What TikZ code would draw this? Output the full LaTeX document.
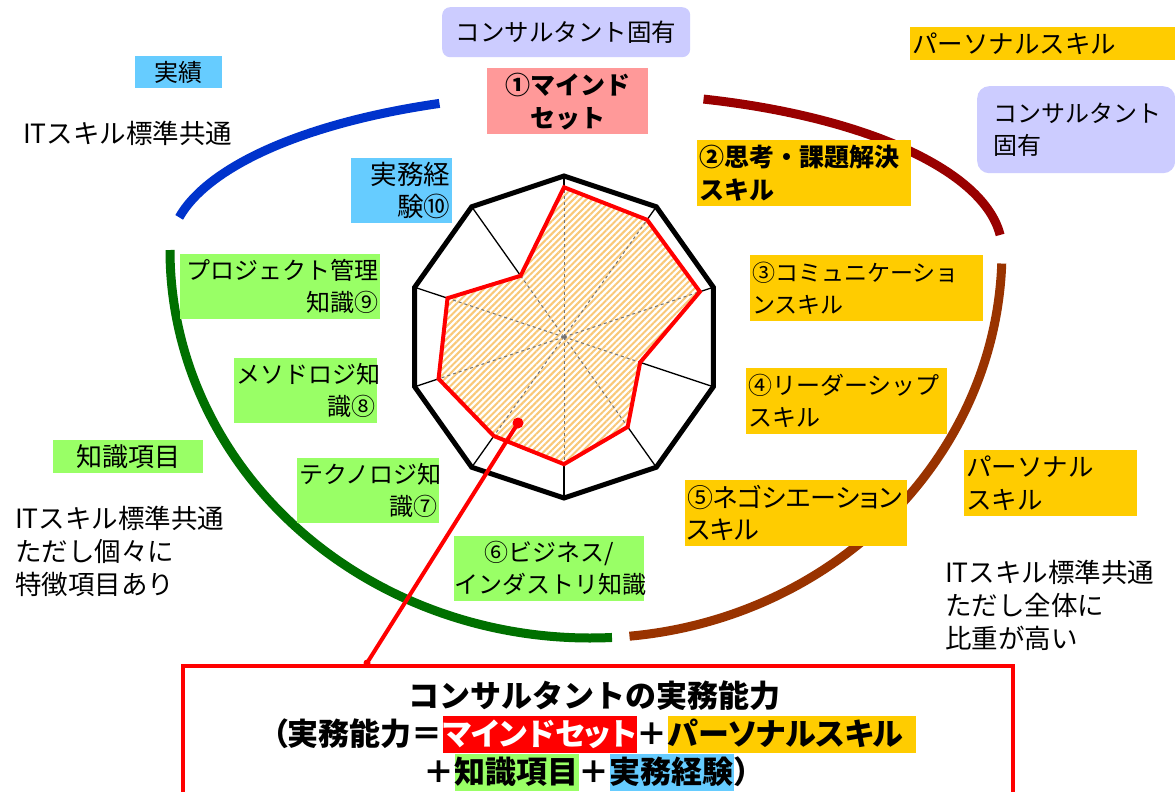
\documentclass[tikz,border=0pt]{standalone}
\usepackage{fontspec}
\setmainfont{Noto Sans CJK JP}
\newfontfamily\jpp{Noto Sans CJK JP}[RawFeature=+palt]
\usetikzlibrary{patterns.meta}
\definecolor{pinkc}{HTML}{FF9999}
\definecolor{yelc}{HTML}{FFCC00}
\definecolor{grnc}{HTML}{99FF66}
\definecolor{bluc}{HTML}{66CCFF}
\definecolor{lavc}{HTML}{CCCCFF}
\definecolor{arcblue}{HTML}{0033CC}
\definecolor{arcdred}{HTML}{990000}
\definecolor{arcbrown}{HTML}{993300}
\definecolor{arcgreen}{HTML}{007000}
\definecolor{hatchc}{HTML}{F9C878}
\newcommand{\hlbox}[2]{{\fboxsep=0pt\colorbox{#1}{\rule[-0.25em]{0pt}{1.2em}#2}}}
\begin{document}
\begin{tikzpicture}[x=1pt,y=1pt,
  lbl/.style={anchor=north west, inner xsep=0pt, inner ysep=0pt, font=\fontsize{24}{32}\selectfont},
  fs/.style={font=\fontsize{#1}{32.5}\selectfont},
  fsp/.style={font=\fontsize{#1}{32.5}\selectfont\jpp},
  bld/.style={font=\fontsize{25}{33}\selectfont\bfseries},
  txt/.style={anchor=west, inner sep=0pt, align=left, font=\fontsize{26.5}{33}\selectfont},
  arcline/.style={line width=9},
  ]
\useasboundingbox (0,0) rectangle (1175,-792);
\fill[white] (0,0) rectangle (1175,-792);

% arcs (elliptical, centre (590,-250))
\draw[arcline, arcblue] ({590+420*cos(168)},{-250+157*sin(168)}) arc[start angle=168, end angle=111, x radius=420, y radius=157];
\draw[arcline, arcdred] ({590+412*cos(74)},{-250+157*sin(74)}) arc[start angle=74, end angle=5.5, x radius=412, y radius=157];
\draw[arcline, arcbrown] ({590+412*cos(-2)},{-250+388*sin(-2)}) arc[start angle=-2, end angle=-84.5, x radius=412, y radius=388];
\draw[arcline, arcgreen] ({590+420*cos(180)},{-250+388*sin(180)}) arc[start angle=180, end angle=273, x radius=420, y radius=388];

% radar chart
\coordinate (c) at (564,-337);
\foreach \k in {0,...,9} {
  \coordinate (v\k) at ({564+157*cos(90-36*\k)},{-337+161*sin(90-36*\k)});
}
\foreach \k/\f in {0/0.93,1/0.90,2/0.91,3/0.51,4/0.69,5/0.79,6/0.76,7/0.84,8/0.78,9/0.47} {
  \coordinate (r\k) at ({564+157*\f*cos(90-36*\k)},{-337+161*\f*sin(90-36*\k)});
}
\foreach \k in {0,...,9} \draw[line width=1.3] (c) -- (v\k);
\draw[line width=5, line join=miter] (v0)--(v1)--(v2)--(v3)--(v4)--(v5)--(v6)--(v7)--(v8)--(v9)--cycle;
\fill[white] (r0)--(r1)--(r2)--(r3)--(r4)--(r5)--(r6)--(r7)--(r8)--(r9)--cycle;
\fill[pattern={Lines[angle=45,distance=4.5pt,line width=2pt]}, pattern color=hatchc] (r0)--(r1)--(r2)--(r3)--(r4)--(r5)--(r6)--(r7)--(r8)--(r9)--cycle;
\begin{scope}
  \clip (r0)--(r1)--(r2)--(r3)--(r4)--(r5)--(r6)--(r7)--(r8)--(r9)--cycle;
  \foreach \k in {0,...,9} \draw[black!55, dashed, line width=1] (c) -- (v\k);
\end{scope}
\draw[red, line width=4, line join=miter] (r0)--(r1)--(r2)--(r3)--(r4)--(r5)--(r6)--(r7)--(r8)--(r9)--cycle;

% labels
\node[lbl, fs=24.5, fill=lavc, rounded corners=8pt, minimum width=248, minimum height=50, text width=246, align=center] (tc) at (442,-7) {コンサルタント固有};
\node[lbl, bld, fill=pinkc, minimum width=161, minimum height=66, text width=155, align=center] (n1) at (487,-68) {①マインド\\セット};
\node[lbl, fs=25.5, fill=yelc, minimum width=265, minimum height=33, text width=261, align=left] (ps1) at (910,-27) {パーソナルスキル};
\node[lbl, fill=lavc, rounded corners=12pt, minimum width=198, minimum height=87, text width=166, align=left] (tc2) at (977,-86) {コンサルタント\\固有};
\node[lbl, fill=bluc, minimum width=87, minimum height=32, text width=85, align=center] (jj) at (135,-56) {実績};
\node[txt] (it1) at (23,-133) {ITスキル標準共通};
\node[lbl, fs=26.5, fill=bluc, minimum width=101, minimum height=65, text width=97, align=right] (n10) at (351,-158) {実務経\\験⑩};
\node[lbl, fill=grnc, minimum width=200, minimum height=65, text width=196, align=right] (n9) at (180,-254) {プロジェクト管理\\知識⑨};
\node[lbl, fill=grnc, minimum width=143, minimum height=65, text width=139, align=right] (n8) at (234,-358) {メソドロジ知\\識⑧};
\node[lbl, fill=grnc, minimum width=142, minimum height=65, text width=138, align=right] (n7) at (297,-458) {テクノロジ知\\識⑦};
\node[lbl, fill=grnc, minimum width=190, minimum height=65, text width=190, align=center] (n6) at (454,-536) {⑥ビジネス/\\インダストリ知識};
\node[lbl, fs=26, fill=grnc, minimum width=150, minimum height=33, text width=146, align=center] (kk) at (53,-440) {知識項目};
\node[txt] (lt) at (15,-551) {ITスキル標準共通\\ただし個々に\\特徴項目あり};
\node[lbl, bld, fill=yelc, minimum width=214, minimum height=66, text width=210, align=left] (n2) at (697,-140) {②思考・課題解決\\スキル};
\node[lbl, fs=23, fill=yelc, minimum width=233, minimum height=66, text width=229, align=left] (n3) at (750,-255) {③コミュニケーショ\\ンスキル};
\node[lbl, fill=yelc, minimum width=201, minimum height=66, text width=197, align=left] (n4) at (746,-368) {④リーダーシップ\\スキル};
\node[lbl, fsp=26, fill=yelc, minimum width=222, minimum height=66, text width=218, align=left] (n5) at (685,-480) {⑤ネゴシエーション\\スキル};
\node[lbl, fs=25.5, fill=yelc, minimum width=173, minimum height=66, text width=169, align=left] (ps2) at (964,-450) {パーソナル\\スキル};
\node[txt] (rt) at (945,-605) {ITスキル標準共通\\ただし全体に\\比重が高い};

% bottom box
\node[draw=red, line width=4, minimum width=830, minimum height=160, anchor=north west, inner sep=0pt] (bb) at (181,-664) {};
\node[font=\fontsize{31}{38}\selectfont\bfseries, align=center, inner sep=0pt] (bt) at (594,-736)
  {コンサルタントの実務能力\\{\jpp\bfseries（実務能力＝\hlbox{red}{\color{white}マインドセット}＋\hlbox{yelc}{パーソナルスキル\hspace{12pt}}}\\＋\hlbox{grnc}{知識項目}＋\hlbox{bluc}{実務経験}）};

% pointer
\coordinate (pA) at (518,-423);
\coordinate (pB) at (367,-663);
\draw[red, line width=4] (pA) -- (pB);
\fill[red] (pA) circle (5.5);
\fill[red] (pB) circle (3.5);
\end{tikzpicture}
\end{document}
